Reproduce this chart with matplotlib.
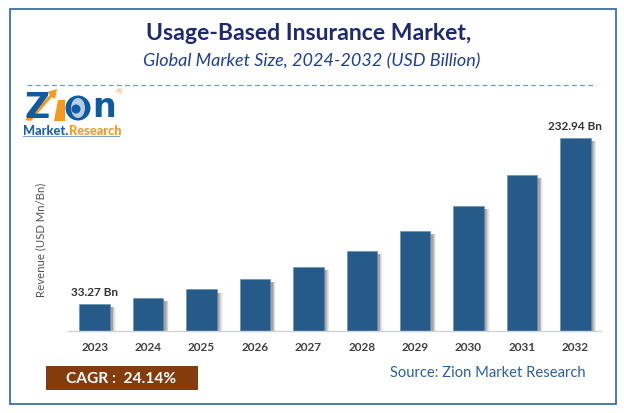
import matplotlib
matplotlib.use('Agg')
import matplotlib.pyplot as plt
from matplotlib.patches import Rectangle, Circle, Polygon, Ellipse

years = ['2023', '2024', '2025', '2026', '2027', '2028', '2029', '2030', '2031', '2032']
revenue = [33.27, 40.5, 50.4, 63, 78, 97, 121, 150.8, 188.5, 232.94]
first_label = '33.27 Bn'
last_label = '232.94 Bn'

W, H = 624, 414
plt.rcParams['font.family'] = ['Lato', 'DejaVu Sans']

fig = plt.figure(figsize=(W / 100, H / 100), dpi=100)

# full figure overlay in pixel coordinates, y going down
bg = fig.add_axes([0, 0, 1, 1])
bg.set_xlim(0, W)
bg.set_ylim(H, 0)
bg.axis('off')

# outer frame
bg.add_patch(Rectangle((9.5, 9.5), 606, 395.5, fill=False, ec='#3f6f9f', lw=1.3))

# titles
bg.text(309, 34, 'Usage-Based Insurance Market,', ha='center', va='center',
        fontsize=16.6, fontweight='bold', color='#1f2a6e')
bg.text(311.5, 61, 'Global Market Size, 2024-2032 (USD Billion)', ha='center', va='center',
        fontsize=13, fontstyle='italic', color='#1f3f8f')

# dashed line under the titles
bg.plot([27, 596], [85.5, 85.5], color='#6f9bd0', lw=0.9, ls=(0, (4, 2.5)))

# logo
bg.text(24, 108, 'Z', fontsize=25, fontweight='bold', family='DejaVu Sans',
        color='#0f5aa0', va='center', ha='left')
bg.text(92, 108, 'n', fontsize=24, fontweight='bold', family='DejaVu Sans',
        color='#0f5aa0', va='center', ha='left')
bg.add_patch(Circle((78, 109), 12.5, fc='#0f5aa0', ec='none'))
bg.add_patch(Ellipse((78, 109), 14, 20, fc='white', ec='none', alpha=0.7))
bg.add_patch(Circle((76, 110), 4.5, fc='#0f5aa0', ec='none'))
bg.add_patch(Polygon([[25, 121], [50, 96], [47, 93], [57, 90], [55, 100], [52, 98], [31, 122]],
                     fc='#f39a1f', ec='none'))
bg.add_patch(Polygon([[58, 101], [65, 101], [65, 122], [54, 122]], fc='#f39a1f', ec='none'))
bg.text(23, 131.5, 'Market.', fontsize=9.2, fontweight='black', color='#1f5fa8', va='center', ha='left')
bg.text(69, 131.5, 'Research', fontsize=9.2, fontweight='black', color='#f39a1f', va='center', ha='left')
bg.plot([23, 119], [137, 137], color='#7fa6d0', lw=0.8)
bg.text(119.5, 92, '®', fontsize=6, color='#e8a050', va='center', ha='center')

# CAGR box
bg.add_patch(Rectangle((46, 367), 152, 24, fc='#843c0c', ec='none'))
bg.text(121, 379.5, 'CAGR :  24.14%', ha='center', va='center', fontsize=11.2,
        fontweight='bold', color='white')

bg.text(487.5, 373, 'Source: Zion Market Research', ha='center', va='center',
        fontsize=10.6, color='#2a5f9e')

# plot area: x 68-601 px, y 125-332 px
ax = fig.add_axes([68 / W, 1 - 332.3 / H, 533 / W, 207.3 / H])
ax.patch.set_alpha(0)
x = list(range(len(years)))
scale = 232.94 / 193.5
ax.set_xlim(-0.5, 9.48)
ax.set_ylim(0, 207.3 * scale)

# soft shadows behind the bars
for dx, a in [(0.11, 0.06), (0.095, 0.08), (0.08, 0.12), (0.065, 0.16), (0.05, 0.2)]:
    ax.bar([i + dx for i in x], [max(v - 4, 0) for v in revenue], width=0.57,
           color='#444444', alpha=a, linewidth=0)
ax.bar(x, revenue, width=0.57, color='#265a88', edgecolor='#5f8ab0', linewidth=0.4)

ax.annotate(first_label, (0, revenue[0]), xytext=(0, 5), textcoords='offset points',
            ha='center', va='bottom', fontsize=8.5, fontweight='bold', color='#333333')
ax.annotate(last_label, (9, revenue[9]), xytext=(0, 5), textcoords='offset points',
            ha='center', va='bottom', fontsize=8.5, fontweight='bold', color='#333333')

ax.set_xticks(x)
ax.set_xticklabels(years, fontsize=8.5, fontweight='bold', color='#404040')
ax.tick_params(axis='x', length=0, pad=7)
ax.set_yticks([])
for s in ['top', 'right', 'left']:
    ax.spines[s].set_visible(False)
ax.spines['bottom'].set_color('#d0d4da')
ax.spines['bottom'].set_linewidth(1)

bg.text(41, 240, 'Revenue (USD Mn/Bn)', rotation=90, ha='center', va='center',
        fontsize=8.2, color='#555555')

fig.savefig('out.png', dpi=100)
